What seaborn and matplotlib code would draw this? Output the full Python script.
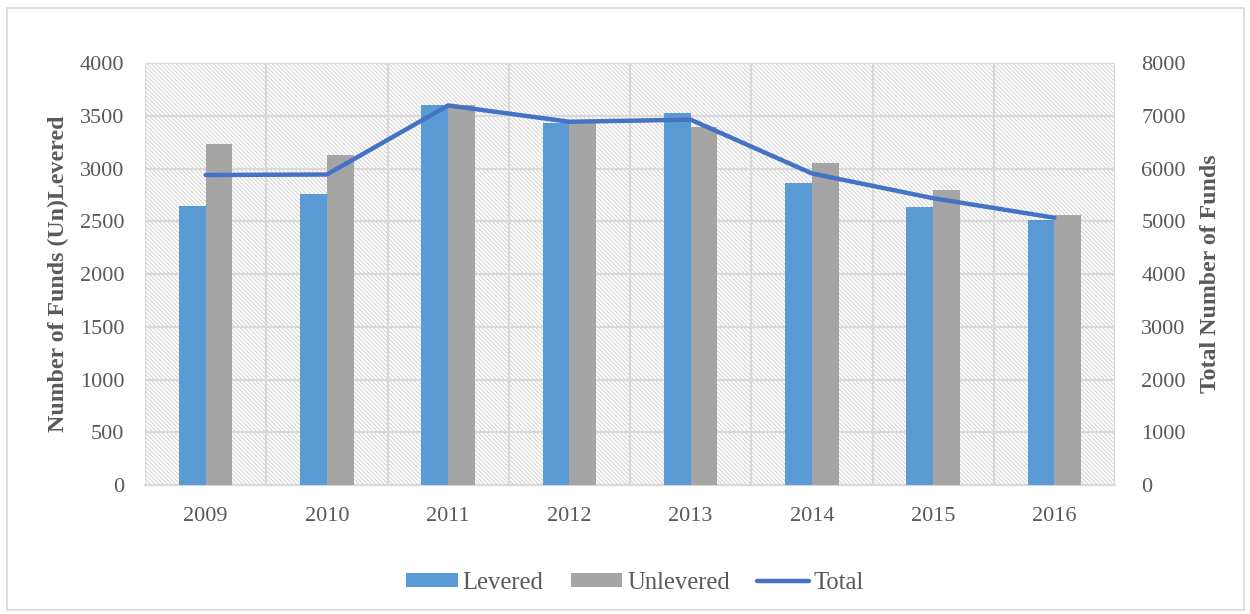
import numpy as np
import pandas as pd
import matplotlib
matplotlib.use("Agg")
import matplotlib.pyplot as plt
import seaborn as sns
from matplotlib.patches import Rectangle, Patch
from matplotlib.lines import Line2D

years = ["2009", "2010", "2011", "2012", "2013", "2014", "2015", "2016"]
levered = [2650, 2760, 3600, 3430, 3530, 2860, 2640, 2510]
unlevered = [3230, 3130, 3600, 3460, 3400, 3050, 2800, 2560]
total = [5880, 5890, 7200, 6890, 6930, 5910, 5440, 5070]
series_names = ["Levered", "Unlevered", "Total"]

sns.set_theme(style="white")
plt.rcParams["font.family"] = ["Liberation Serif", "DejaVu Serif"]
plt.rcParams["hatch.linewidth"] = 0.7
plt.rcParams["hatch.color"] = "#D2D2D2"

TXT = "#595959"
GRID = "#D9D9D9"
C_LEV = "#5B9BD5"
C_UNL = "#A5A5A5"
C_TOT = "#4472C4"
FS = 16

df = pd.DataFrame({
    "Year": years * 2,
    "Type": [series_names[0]] * len(years) + [series_names[1]] * len(years),
    "Value": levered + unlevered,
})

fig = plt.figure(figsize=(12.5, 6.14), dpi=100)
fig.patch.set_facecolor("white")
fig.add_artist(Rectangle((7 / 1250, 4 / 614), 1237 / 1250, 602 / 614, transform=fig.transFigure,
                         facecolor="none", edgecolor="#D9D9D9", lw=1.2))

ax = fig.add_axes([0.116, 0.21, 0.776, 0.687])
ax.set_facecolor("white")
bg_kw = dict(transform=ax.transAxes, facecolor="white", edgecolor="#D2D2D2", lw=0.01,
             hatch="\\" * 8, zorder=0)
try:
    bg = Rectangle((0, 0), 1, 1, hatchcolor="#D2D2D2", **bg_kw)
except Exception:
    bg = Rectangle((0, 0), 1, 1, **bg_kw)
ax.add_patch(bg)

sns.barplot(data=df, x="Year", y="Value", hue="Type", palette=[C_LEV, C_UNL],
            width=0.44, dodge=True, saturation=1, ax=ax, legend=False, zorder=3)
for p in ax.patches:
    if p is not bg:
        p.set_edgecolor("none")

ax.set_xlim(-0.5, len(years) - 0.5)
ax.set_ylim(0, 4000)
ax.set_yticks(np.arange(0, 4001, 500))
ax.set_xticks(np.arange(len(years)))
ax.set_xticklabels(years)
ax.set_xticks(np.arange(len(years) + 1) - 0.5, minor=True)
ax.yaxis.grid(True, color=GRID, lw=1.6, zorder=1)
ax.xaxis.grid(True, which="minor", color=GRID, lw=1.6, zorder=1)
ax.set_axisbelow(True)
for s in ["top", "left", "right"]:
    ax.spines[s].set_visible(False)
ax.spines["bottom"].set_color(GRID)
ax.spines["bottom"].set_linewidth(1.6)
ax.tick_params(axis="x", which="major", length=0, labelsize=FS, labelcolor=TXT, pad=16)
ax.tick_params(axis="x", which="minor", length=6, width=1.6, color=GRID, direction="out")
ax.tick_params(axis="y", length=0, labelsize=FS, labelcolor=TXT, pad=15)
ax.set_xlabel("")
ax.set_ylabel("Number of Funds (Un)Levered", fontsize=17.2, fontweight="bold", color=TXT, labelpad=8)

ax2 = ax.twinx()
sns.lineplot(x=np.arange(len(years)), y=total, ax=ax2, color=C_TOT, lw=3.2,
             solid_capstyle="round", solid_joinstyle="round", zorder=5)
ax2.set_ylim(0, 8000)
ax2.set_yticks(np.arange(0, 8001, 1000))
for s in ["top", "left", "right", "bottom"]:
    ax2.spines[s].set_visible(False)
ax2.tick_params(axis="y", length=0, labelsize=FS, labelcolor=TXT, pad=19)
ax2.set_ylabel("Total Number of Funds", fontsize=17.2, fontweight="bold", color=TXT, labelpad=10)
ax2.grid(False)

handles = [Patch(facecolor=C_LEV, edgecolor="none"),
           Patch(facecolor=C_UNL, edgecolor="none"),
           Line2D([], [], color=C_TOT, lw=3.2, solid_capstyle="round")]
leg = fig.legend(handles, series_names, loc="center", bbox_to_anchor=(0.508, 0.051), ncol=3,
                 frameon=False, fontsize=17.7, handlelength=2.1, handleheight=0.45,
                 handletextpad=0.2, columnspacing=1.1)
for t in leg.get_texts():
    t.set_color(TXT)

fig.savefig("out.png", dpi=100, facecolor="white")
